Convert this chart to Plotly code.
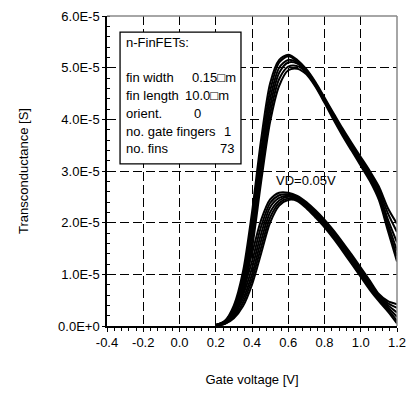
import plotly.graph_objects as go

# Gate voltage samples [V]
GATE_V = [0.2, 0.25, 0.3, 0.35, 0.4, 0.45, 0.5, 0.55, 0.6, 0.65, 0.7,
          0.75, 0.8, 0.85, 0.9, 0.95, 1.0, 1.05, 1.1, 1.15, 1.2]

# High-VD family, transconductance in units of 1E-5 S
H1 = [0.02, 0.10, 0.40, 1.05, 2.20, 3.60, 4.70, 5.15, 5.25, 5.15, 4.97, 4.72, 4.42, 4.12, 3.82, 3.54, 3.27, 3.00, 2.70, 2.28, 1.98]
H2 = [0.02, 0.08, 0.35, 0.95, 2.05, 3.40, 4.55, 5.10, 5.22, 5.12, 4.95, 4.70, 4.40, 4.09, 3.79, 3.51, 3.23, 2.96, 2.64, 2.18, 1.82]
H3 = [0.01, 0.07, 0.30, 0.85, 1.90, 3.25, 4.40, 5.00, 5.15, 5.10, 4.93, 4.68, 4.38, 4.06, 3.76, 3.48, 3.20, 2.92, 2.58, 2.06, 1.62]
H4 = [0.01, 0.06, 0.27, 0.78, 1.78, 3.10, 4.25, 4.90, 5.10, 5.08, 4.92, 4.67, 4.37, 4.04, 3.74, 3.45, 3.17, 2.89, 2.54, 1.98, 1.46]
H5 = [0.01, 0.05, 0.22, 0.70, 1.62, 2.92, 4.10, 4.78, 5.02, 5.03, 4.90, 4.65, 4.35, 4.02, 3.71, 3.42, 3.14, 2.85, 2.49, 1.90, 1.35]
H6 = [0.01, 0.04, 0.20, 0.62, 1.50, 2.78, 3.95, 4.65, 4.95, 4.98, 4.87, 4.63, 4.32, 3.99, 3.68, 3.39, 3.10, 2.81, 2.44, 1.84, 1.25]

# VD = 0.05 V family, transconductance in units of 1E-5 S
L1 = [0.02, 0.09, 0.35, 0.80, 1.40, 2.05, 2.45, 2.58, 2.58, 2.52, 2.40, 2.24, 2.06, 1.85, 1.62, 1.38, 1.13, 0.88, 0.62, 0.48, 0.42]
L2 = [0.02, 0.08, 0.30, 0.70, 1.25, 1.92, 2.38, 2.53, 2.55, 2.50, 2.37, 2.21, 2.03, 1.82, 1.58, 1.34, 1.09, 0.84, 0.60, 0.44, 0.35]
L3 = [0.01, 0.07, 0.26, 0.60, 1.12, 1.78, 2.30, 2.48, 2.52, 2.48, 2.35, 2.18, 2.00, 1.78, 1.55, 1.30, 1.05, 0.80, 0.57, 0.40, 0.26]
L4 = [0.01, 0.06, 0.22, 0.52, 1.00, 1.65, 2.20, 2.43, 2.50, 2.46, 2.33, 2.16, 1.97, 1.75, 1.51, 1.26, 1.01, 0.76, 0.54, 0.36, 0.18]
L5 = [0.01, 0.05, 0.18, 0.45, 0.90, 1.52, 2.10, 2.38, 2.47, 2.44, 2.30, 2.13, 1.94, 1.72, 1.48, 1.23, 0.98, 0.73, 0.51, 0.32, 0.10]
L6 = [0.01, 0.04, 0.15, 0.38, 0.80, 1.40, 2.00, 2.33, 2.44, 2.42, 2.28, 2.10, 1.91, 1.69, 1.45, 1.20, 0.95, 0.70, 0.48, 0.28, 0.05]

CURVES = [H1, H2, H3, H4, H5, H6, L1, L2, L3, L4, L5, L6]
SCALE = 1e-5

X_TICKS = [-0.4, -0.2, 0.0, 0.2, 0.4, 0.6, 0.8, 1.0, 1.2]
X_TICK_TEXT = ["-0.4", "-0.2", "0.0", "0.2", "0.4", "0.6", "0.8", "1.0", "1.2"]
Y_TICKS = [0, 1e-5, 2e-5, 3e-5, 4e-5, 5e-5, 6e-5]
Y_TICK_TEXT = ["0.0E+0", "1.0E-5", "2.0E-5", "3.0E-5", "4.0E-5", "5.0E-5", "6.0E-5"]

BOX_LABELS = ["fin width", "fin length", "orient.", "no. gate fingers", "no. fins"]
BOX_VALUES = ["0.15\u25a1m", "10.0\u25a1m", "0", "1", "73"]

FONT = "Liberation Sans, Arial, sans-serif"

fig = go.Figure()
for c in CURVES:
    fig.add_trace(go.Scatter(
        x=GATE_V, y=[v * SCALE for v in c], mode="lines",
        line=dict(color="black", width=2.0, shape="spline", smoothing=0.8),
        showlegend=False, hoverinfo="skip"))

# dummy trace to activate overlay axis (crossing y ticks)
fig.add_trace(go.Scatter(x=[None], y=[None], yaxis="y2", showlegend=False, hoverinfo="skip"))

fig.update_layout(
    width=406, height=394,
    margin=dict(l=107, r=9, t=16, b=68),
    paper_bgcolor="white", plot_bgcolor="white",
    font=dict(family=FONT, size=13, color="black"),
    xaxis=dict(
        range=[-0.4, 1.2], tickvals=X_TICKS, ticktext=X_TICK_TEXT,
        ticks="outside", ticklen=4, tickwidth=1, tickcolor="black",
        ticklabeloverflow="allow", automargin=False,
        minor=dict(dtick=0.04, tick0=-0.4, ticks="outside", ticklen=3, tickcolor="black", showgrid=False),
        showline=True, linecolor="black", linewidth=1.5,
        showgrid=True, gridcolor="black", gridwidth=1, griddash="9px,4px",
        zeroline=False,
        title=dict(text="Gate voltage [V]", font=dict(size=13), standoff=26),
    ),
    yaxis=dict(
        range=[0, 6e-5], tickvals=Y_TICKS, ticktext=Y_TICK_TEXT,
        ticks="outside", ticklen=3, tickwidth=1, tickcolor="black",
        ticklabeloverflow="allow", automargin=False,
        minor=dict(dtick=0.2e-5, tick0=0, ticks="inside", ticklen=3, tickcolor="black", showgrid=False),
        showline=True, linecolor="black", linewidth=1.5,
        showgrid=True, gridcolor="black", gridwidth=1, griddash="9px,4px",
        zeroline=False,
        title=dict(text="Transconductance [S]", font=dict(size=13), standoff=27),
    ),
    yaxis2=dict(
        overlaying="y", side="left", range=[0, 6e-5], tickvals=Y_TICKS,
        ticks="inside", ticklen=3, tickcolor="black", showticklabels=False,
        showgrid=False, zeroline=False, showline=False, automargin=False,
    ),
)

# top and right frame lines (gray)
fig.add_shape(type="line", xref="x domain", yref="y domain", x0=0, x1=1, y0=1, y1=1,
              line=dict(color="#888888", width=1.5), layer="above")
fig.add_shape(type="line", xref="x domain", yref="y domain", x0=1, x1=1, y0=0, y1=1,
              line=dict(color="#888888", width=1.5), layer="above")

# info box
fig.add_shape(type="rect", xref="x domain", yref="y domain",
              x0=0.045, x1=0.462, y0=0.523, y1=0.948,
              line=dict(color="black", width=1.3), fillcolor="white", layer="above")

fig.add_annotation(text="n-FinFETs:", xref="x domain", yref="y domain", x=0.059, y=0.913,
                   xanchor="left", yanchor="middle", showarrow=False)
label_y = [0.803, 0.745, 0.687, 0.626, 0.571]
for lab, yy in zip(BOX_LABELS, label_y):
    fig.add_annotation(text=lab, xref="x domain", yref="y domain", x=0.059, y=yy,
                       xanchor="left", yanchor="middle", showarrow=False)
val_pos = [(0.286, "left"), (0.262, "left"), (0.293, "left"), (0.434, "right"), (0.445, "right")]
for val, yy, (xx, anc) in zip(BOX_VALUES, label_y, val_pos):
    fig.add_annotation(text=val, xref="x domain", yref="y domain", x=xx, y=yy,
                       xanchor=anc, yanchor="middle", showarrow=False)

fig.add_annotation(text="VD=0.05V", x=0.70, y=2.82e-5, showarrow=False,
                   xanchor="center", yanchor="middle")

fig.write_html("out.html", config={"displayModeBar": False},
               post_script="document.body.style.margin='0';")
